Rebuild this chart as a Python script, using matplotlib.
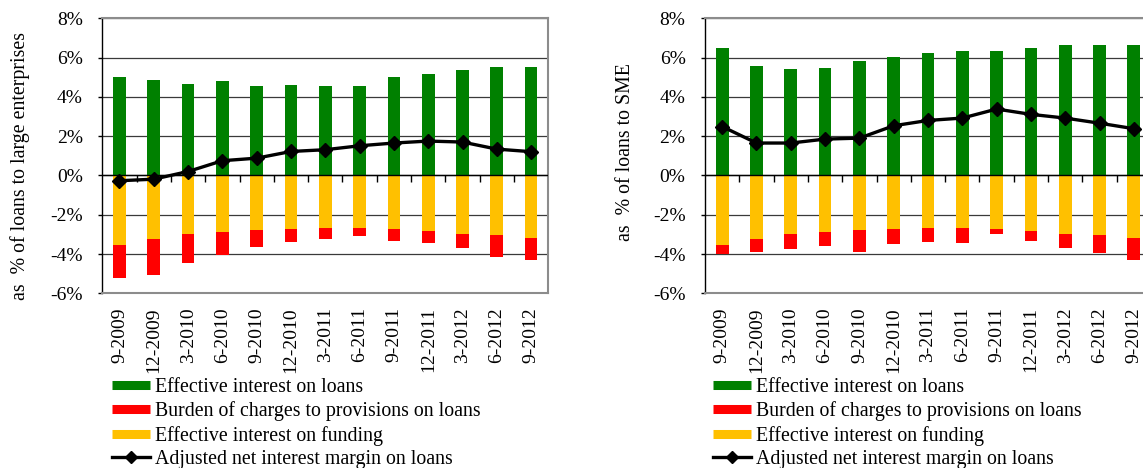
import matplotlib

matplotlib.use("Agg")
import matplotlib.pyplot as plt
from matplotlib.lines import Line2D

## Data
periods = [
    "9-2009", "12-2009", "3-2010", "6-2010", "9-2010", "12-2010", "3-2011",
    "6-2011", "9-2011", "12-2011", "3-2012", "6-2012", "9-2012",
]

# Effective interest on funding (same for both borrower groups)
funding = [3.56, 3.22, 2.99, 2.87, 2.80, 2.73, 2.70, 2.70, 2.73, 2.83, 2.97, 3.05, 3.16]

# Large enterprises
large_loans = [5.02, 4.87, 4.67, 4.80, 4.53, 4.60, 4.53, 4.56, 5.02, 5.18, 5.38, 5.50, 5.50]
large_provisions = [1.68, 1.84, 1.47, 1.19, 0.83, 0.65, 0.52, 0.37, 0.63, 0.60, 0.70, 1.11, 1.12]
large_margin = [-0.27, -0.19, 0.20, 0.75, 0.88, 1.22, 1.31, 1.51, 1.65, 1.75, 1.70, 1.34, 1.21]

# SME
sme_loans = [6.50, 5.57, 5.40, 5.48, 5.84, 6.04, 6.23, 6.35, 6.35, 6.47, 6.62, 6.62, 6.63]
sme_provisions = [0.43, 0.68, 0.73, 0.74, 1.12, 0.78, 0.71, 0.73, 0.26, 0.51, 0.71, 0.89, 1.12]
sme_margin = [2.49, 1.65, 1.65, 1.85, 1.90, 2.53, 2.80, 2.92, 3.38, 3.11, 2.92, 2.66, 2.38]

y_ticks = [-6, -4, -2, 0, 2, 4, 6, 8]

series_names = [
    "Effective interest on loans",
    "Burden of charges to provisions on loans",
    "Effective interest on funding",
    "Adjusted net interest margin on loans",
]

## Style
GREEN = "#008000"
RED = "#FF0000"
YELLOW = "#FFC000"
FRAME = "#8c8c8c"
TICK_SIZE = 14
TEXT_SIZE = 14.3

plt.rcParams["font.family"] = ["Liberation Serif", "DejaVu Serif"]
plt.rcParams["axes.unicode_minus"] = False

W, H = 1143, 468


## margin_chart
def margin_chart(ax, loans, provisions, funding, margin, bar_width=0.37):
    x = list(range(len(periods)))
    neg_funding = [-f for f in funding]
    neg_prov = [-p for p in provisions]

    ax.bar(x, loans, width=bar_width, color=GREEN, zorder=2)
    ax.bar(x, neg_funding, width=bar_width, color=YELLOW, zorder=2)
    ax.bar(x, neg_prov, width=bar_width, bottom=neg_funding, color=RED, zorder=2)

    ax.plot(
        x, margin, color="black", lw=2.4, marker="D", ms=7.5, zorder=4,
        solid_joinstyle="round",
    )

    # Zero line with small ticks between the quarters
    ax.axhline(0, color="black", lw=1.0, zorder=3)
    bounds = [i + 0.5 for i in x[:-1]]
    ax.plot(bounds, [0] * len(bounds), ls="none", marker=3, ms=5, mew=1.0,
            color="black", zorder=3)

    ax.set_xlim(-0.5, len(periods) - 0.5)
    ax.set_ylim(-6, 8)
    ax.set_yticks(y_ticks)
    ax.set_yticklabels([f"{v}%" for v in y_ticks], fontsize=TICK_SIZE)
    ax.set_xticks(x)
    ax.set_xticklabels(periods, rotation=90, fontsize=TICK_SIZE, va="top")
    ax.tick_params(axis="x", length=0, pad=10)
    ax.tick_params(axis="y", direction="out", length=3, width=1, pad=11, color="black")

    ax.grid(axis="y", color="#3a3a3a", lw=0.9)
    ax.set_axisbelow(True)

    for side in ["top", "right", "bottom"]:
        ax.spines[side].set_color(FRAME)
        ax.spines[side].set_linewidth(1.5)
    ax.spines["left"].set_color("black")
    ax.spines["left"].set_linewidth(1.0)


def add_legend(fig, x0, y0):
    handles = [
        Line2D([], [], color=GREEN, lw=6.5, solid_capstyle="butt"),
        Line2D([], [], color=RED, lw=6.5, solid_capstyle="butt"),
        Line2D([], [], color=YELLOW, lw=6.5, solid_capstyle="butt"),
        Line2D([], [], color="black", lw=2.4, marker="D", ms=6),
    ]
    fig.legend(
        handles, series_names,
        loc="upper left", bbox_to_anchor=(x0, y0),
        frameon=False, fontsize=TEXT_SIZE,
        handlelength=1.9, handletextpad=0.25,
        labelspacing=0.22, borderpad=0, borderaxespad=0,
    )


## Run
fig = plt.figure(figsize=(W / 100, H / 100), dpi=100)

ax_large = fig.add_axes([102.3 / W, 1 - 293.3 / H, 446 / W, 275 / H])
ax_sme = fig.add_axes([705 / W, 1 - 293.3 / H, 446 / W, 275 / H])

margin_chart(ax_large, large_loans, large_provisions, funding, large_margin)
margin_chart(ax_sme, sme_loans, sme_provisions, funding, sme_margin)

fig.text(20 / W, 1 - 166 / H, "as  % of loans to large enterprises", rotation=90,
         ha="center", va="center", fontsize=TEXT_SIZE)
fig.text(625 / W, 1 - 152 / H, "as  % of loans to SME", rotation=90,
         ha="center", va="center", fontsize=TEXT_SIZE)

add_legend(fig, 112 / W, 1 - 378 / H)
add_legend(fig, 713 / W, 1 - 378 / H)

fig.savefig("out.png", dpi=100)
